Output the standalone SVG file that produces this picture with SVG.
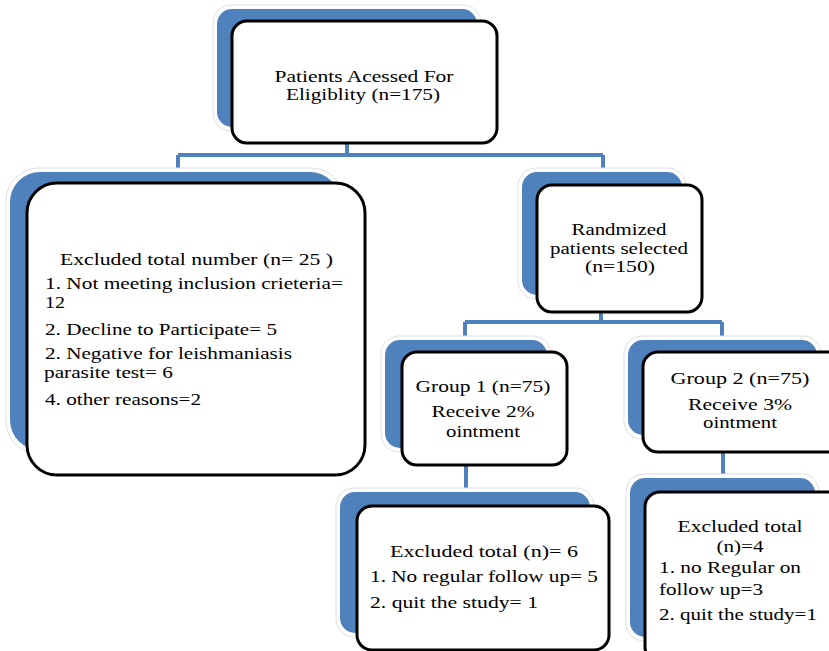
<svg xmlns="http://www.w3.org/2000/svg" width="829" height="651" viewBox="0 0 829 651" font-family="'Liberation Serif', 'DejaVu Serif', serif">
<style>
.halo{fill:#ffffff;stroke:#dedede;stroke-width:1}
.back{fill:#4f81bd}
.front{fill:#ffffff;stroke:#000000;stroke-width:3}
.conn{fill:none;stroke:#4f81bd;stroke-width:4}
.t{font-family:'Liberation Serif','DejaVu Serif',serif;font-size:17px;fill:#000000}
.s{font-size:16px}
.c{text-anchor:middle}
</style>
<rect width="829" height="651" fill="#ffffff"/>
<g id="connectors">
<path class="conn" d="M347,143 V155 M178,155 H603 M178,155 V172 M603,155 V172"/>
<path class="conn" d="M601,312 V322 M465,322 H722 M465,322 V340 M722,322 V340"/>
<path class="conn" d="M466,465 V492 M723,452 V478"/>
</g>
<g id="node-assessed">
<rect class="halo" x="213" y="5" width="268" height="126" rx="18"/>
<rect class="back" x="217" y="9" width="260" height="118" rx="15"/>
<rect class="front" x="232" y="21" width="265" height="122" rx="15"/>
<text class="t s c" x="364" y="82" textLength="179" lengthAdjust="spacingAndGlyphs">Patients Acessed For</text>
<text class="t s c" x="363" y="100" textLength="154" lengthAdjust="spacingAndGlyphs">Eligiblity (n=175)</text>
</g>
<g id="node-excluded-25">
<rect class="halo" x="6" y="168" width="338" height="286" rx="33"/>
<rect class="back" x="10" y="172" width="330" height="278" rx="30"/>
<rect class="front" x="27" y="183" width="338" height="292" rx="30"/>
<text class="t" x="60" y="265" textLength="273" lengthAdjust="spacingAndGlyphs">Excluded  total number (n= 25 )</text>
<text class="t s" x="45" y="289" textLength="298" lengthAdjust="spacingAndGlyphs">1. Not meeting inclusion crieteria=</text>
<text class="t s" x="45" y="308" textLength="20" lengthAdjust="spacingAndGlyphs">12</text>
<text class="t" x="45" y="335" textLength="232" lengthAdjust="spacingAndGlyphs">2. Decline to Participate= 5</text>
<text class="t s" x="45" y="359" textLength="247" lengthAdjust="spacingAndGlyphs">2. Negative for leishmaniasis</text>
<text class="t s" x="44" y="378" textLength="129" lengthAdjust="spacingAndGlyphs">parasite test= 6</text>
<text class="t" x="45" y="405" textLength="156" lengthAdjust="spacingAndGlyphs">4. other reasons=2</text>
</g>
<g id="node-randomized">
<rect class="halo" x="518" y="168" width="168" height="131" rx="18"/>
<rect class="back" x="522" y="172" width="160" height="123" rx="15"/>
<rect class="front" x="537" y="185" width="165" height="127" rx="15"/>
<text class="t s c" x="619" y="235" textLength="95" lengthAdjust="spacingAndGlyphs">Randmized</text>
<text class="t s c" x="619" y="254" textLength="138" lengthAdjust="spacingAndGlyphs">patients selected</text>
<text class="t s c" x="620" y="272" textLength="70" lengthAdjust="spacingAndGlyphs">(n=150)</text>
</g>
<g id="node-group1">
<rect class="halo" x="381" y="336" width="170" height="116" rx="18"/>
<rect class="back" x="385" y="340" width="162" height="108" rx="15"/>
<rect class="front" x="402" y="352" width="165" height="113" rx="15"/>
<text class="t c" x="483" y="392" textLength="135" lengthAdjust="spacingAndGlyphs">Group 1 (n=75)</text>
<text class="t s c" x="483" y="417" textLength="103" lengthAdjust="spacingAndGlyphs">Receive 2%</text>
<text class="t s c" x="483" y="437" textLength="74" lengthAdjust="spacingAndGlyphs">ointment</text>
</g>
<g id="node-group2">
<rect class="halo" x="624" y="336" width="197" height="103" rx="18"/>
<rect class="back" x="628" y="340" width="189" height="95" rx="15"/>
<rect class="front" x="643" y="352" width="200" height="100" rx="15"/>
<text class="t c" x="740" y="384" textLength="139" lengthAdjust="spacingAndGlyphs">Group  2 (n=75)</text>
<text class="t s c" x="740" y="410" textLength="104" lengthAdjust="spacingAndGlyphs">Receive 3%</text>
<text class="t s c" x="740" y="428" textLength="74" lengthAdjust="spacingAndGlyphs">ointment</text>
</g>
<g id="node-excluded-6">
<rect class="halo" x="336" y="488" width="258" height="149" rx="18"/>
<rect class="back" x="340" y="492" width="250" height="141" rx="15"/>
<rect class="front" x="357" y="506" width="252" height="144" rx="15"/>
<text class="t" x="390" y="557" textLength="188" lengthAdjust="spacingAndGlyphs">Excluded total  (n)= 6</text>
<text class="t" x="370" y="582" textLength="228" lengthAdjust="spacingAndGlyphs">1. No regular follow up= 5</text>
<text class="t" x="370" y="608" textLength="168" lengthAdjust="spacingAndGlyphs">2. quit the study=  1</text>
</g>
<g id="node-excluded-4">
<rect class="halo" x="626" y="474" width="193" height="167" rx="18"/>
<rect class="back" x="630" y="478" width="185" height="159" rx="15"/>
<rect class="front" x="645" y="492" width="200" height="170" rx="15"/>
<text class="t s c" x="740" y="532" textLength="125" lengthAdjust="spacingAndGlyphs">Excluded total</text>
<text class="t s c" x="740" y="552" textLength="47" lengthAdjust="spacingAndGlyphs">(n)=4</text>
<text class="t s" x="659" y="573" textLength="142" lengthAdjust="spacingAndGlyphs">1. no Regular on</text>
<text class="t s" x="659" y="595" textLength="104" lengthAdjust="spacingAndGlyphs">follow up=3</text>
<text class="t" x="659" y="620" textLength="158" lengthAdjust="spacingAndGlyphs">2. quit the study=1</text>
</g>
</svg>
